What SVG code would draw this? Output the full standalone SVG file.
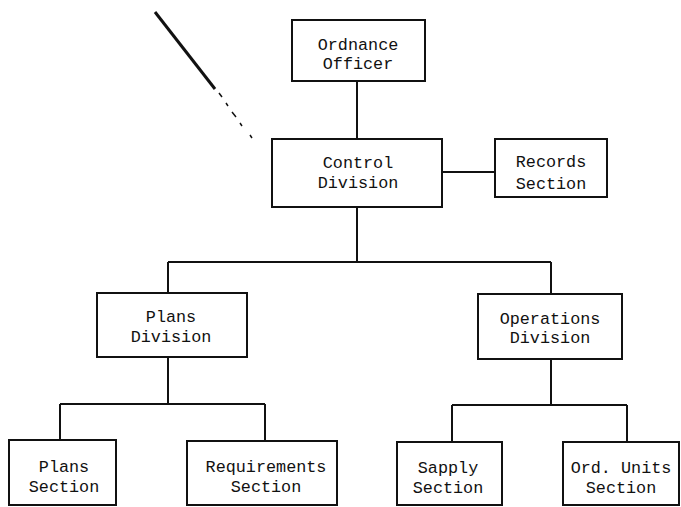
<svg xmlns="http://www.w3.org/2000/svg" width="681" height="507" viewBox="0 0 681 507">
<style>
.box{fill:#fff;stroke:#111;stroke-width:2}
.ln{fill:none;stroke:#111;stroke-width:2}
text{font-family:"Liberation Mono","DejaVu Sans Mono",monospace;font-size:16.8px;fill:#111;text-anchor:middle}
</style>
<rect width="681" height="507" fill="#fff"/>
<g id="scan-mark">
<path d="M155,12 L215,89" stroke="#111" stroke-width="3" fill="none"/>
<path d="M219,93 L222,97 M226,103 L228,106 M232,112 L236,117 M240,123 L242,126 M250,135 L252,138" stroke="#111" stroke-width="1.5" fill="none"/>
</g>
<g id="connectors">
<path class="ln" d="M357,81 V139"/>
<path class="ln" d="M442,172 H495"/>
<path class="ln" d="M357,207 V262 M168,262 H551 M168,262 V293 M551,262 V294"/>
<path class="ln" d="M168,357 V404 M60,404 H265 M60,404 V440 M265,404 V441"/>
<path class="ln" d="M551,359 V405 M452,405 H627 M452,405 V442 M627,405 V442"/>
</g>
<g id="ordnance-officer"><rect class="box" x="292" y="20" width="133" height="61"/><text x="358" y="50">Ordnance</text><text x="358" y="69">Officer</text></g>
<g id="control-division"><rect class="box" x="272" y="139" width="170" height="68"/><text x="358" y="168">Control</text><text x="358" y="188">Division</text></g>
<g id="records-section"><rect class="box" x="495" y="139" width="112" height="58"/><text x="551" y="167">Records</text><text x="551" y="189">Section</text></g>
<g id="plans-division"><rect class="box" x="97" y="293" width="150" height="64"/><text x="171" y="322">Plans</text><text x="171" y="342">Division</text></g>
<g id="operations-division"><rect class="box" x="478" y="294" width="144" height="65"/><text x="550" y="324">Operations</text><text x="550" y="343">Division</text></g>
<g id="plans-section"><rect class="box" x="9" y="440" width="107" height="65"/><text x="64" y="472">Plans</text><text x="64" y="492">Section</text></g>
<g id="requirements-section"><rect class="box" x="187" y="441" width="150" height="64"/><text x="266" y="472">Requirements</text><text x="266" y="492">Section</text></g>
<g id="supply-section"><rect class="box" x="397" y="442" width="105" height="63"/><text x="448" y="473">Sapply</text><text x="448" y="493">Section</text></g>
<g id="ord-units-section"><rect class="box" x="563" y="442" width="116" height="63"/><text x="621" y="473">Ord. Units</text><text x="621" y="493">Section</text></g>
</svg>
